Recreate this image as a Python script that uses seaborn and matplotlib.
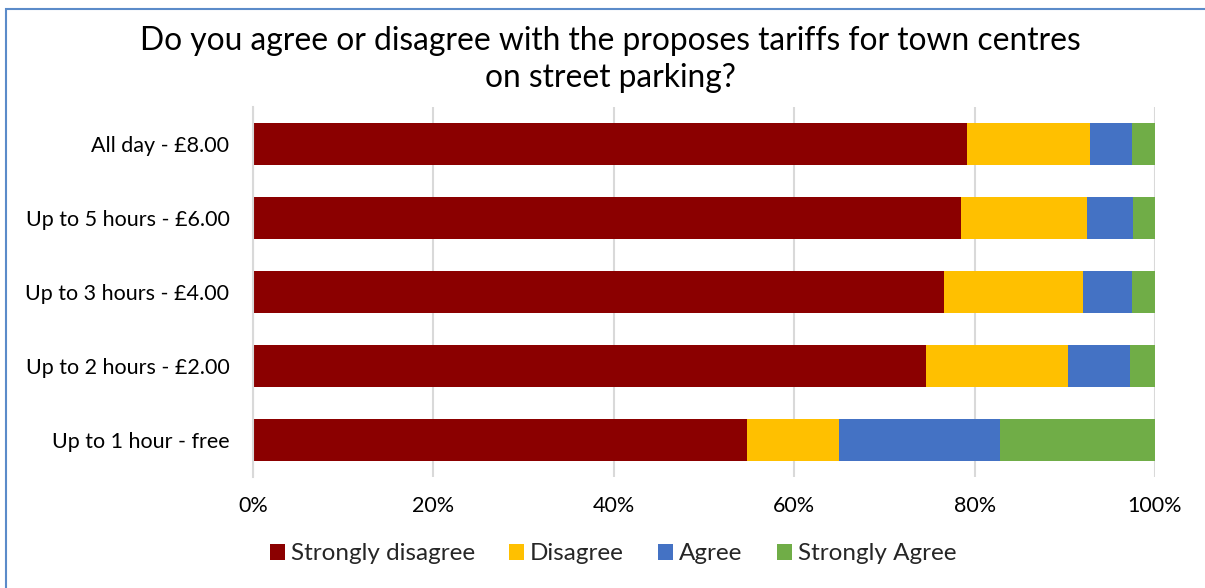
import matplotlib
matplotlib.use("Agg")
import matplotlib.pyplot as plt
import seaborn as sns
import pandas as pd
import numpy as np
from matplotlib.patches import Patch, Rectangle

categories = ["All day - £8.00", "Up to 5 hours - £6.00", "Up to 3 hours - £4.00",
              "Up to 2 hours - £2.00", "Up to 1 hour - free"]
series_names = ["Strongly disagree", "Disagree", "Agree", "Strongly Agree"]
strongly_disagree = [79.2, 78.5, 76.6, 74.6, 54.8]
disagree = [13.6, 14.0, 15.4, 15.8, 10.2]
agree = [4.6, 5.1, 5.4, 6.8, 17.8]
strongly_agree = [2.6, 2.4, 2.6, 2.8, 17.2]
colors = ["#8B0000", "#FFC000", "#4472C4", "#70AD47"]
xticks = [0, 20, 40, 60, 80, 100]
xtick_labels = ["0%", "20%", "40%", "60%", "80%", "100%"]
title = "Do you agree or disagree with the proposes tariffs for town centres\non street parking?"

sns.set_theme(style="white")
plt.rcParams["font.family"] = ["Lato", "DejaVu Sans"]

df = pd.DataFrame({"category": categories,
                   series_names[0]: strongly_disagree,
                   series_names[1]: disagree,
                   series_names[2]: agree,
                   series_names[3]: strongly_agree})
vals = df[series_names].to_numpy()
cum = np.cumsum(vals, axis=1)

fig = plt.figure(figsize=(12.05, 5.88), dpi=100)
ax = fig.add_axes([253/1205, 1-477/588, (1155-253)/1205, (477-107)/588])

# draw from back (largest cumulative) to front
for i in range(len(series_names)-1, -1, -1):
    d = pd.DataFrame({"category": categories, "value": cum[:, i]})
    sns.barplot(data=d, x="value", y="category", orient="h", color=colors[i],
                saturation=1, width=0.57, linewidth=0, ax=ax, zorder=2)

ax.set_xlim(0, 100)
ax.set_ylim(4.5, -0.5)
ax.set_xticks(xticks)
ax.set_xticklabels(xtick_labels)
ax.set_xlabel("")
ax.set_ylabel("")
ax.tick_params(axis="both", length=0, labelsize=15.5, colors="black")
ax.tick_params(axis="y", pad=17)
ax.tick_params(axis="x", pad=14)
ax.grid(axis="x", color="#D9D9D9", linewidth=1.5, zorder=0)
ax.set_axisbelow(True)
for s in ["top", "right", "bottom"]:
    ax.spines[s].set_visible(False)
ax.spines["left"].set_color("#D9D9D9")
ax.spines["left"].set_linewidth(1.5)

fig.text(610/1205, 1-59.5/588, title, ha="center", va="center", fontsize=22.9,
         linespacing=1.33, color="black")

handles = [Patch(facecolor=c, edgecolor="none", label=n) for c, n in zip(colors, series_names)]
fig.legend(handles=handles, loc="center", bbox_to_anchor=(613/1205, 1-554/588), ncol=4,
           frameon=False, fontsize=17.5, handlelength=0.62, handleheight=0.62,
           handletextpad=0.25, columnspacing=1.4, borderaxespad=0)

# chart border
border = Rectangle((6/1205, -0.01), 1.2, 1-9/588+0.01, transform=fig.transFigure,
                   fill=False, edgecolor="#5B8BC9", linewidth=1.5)
fig.patches.append(border)

fig.savefig("out.png", dpi=100, facecolor="white")
